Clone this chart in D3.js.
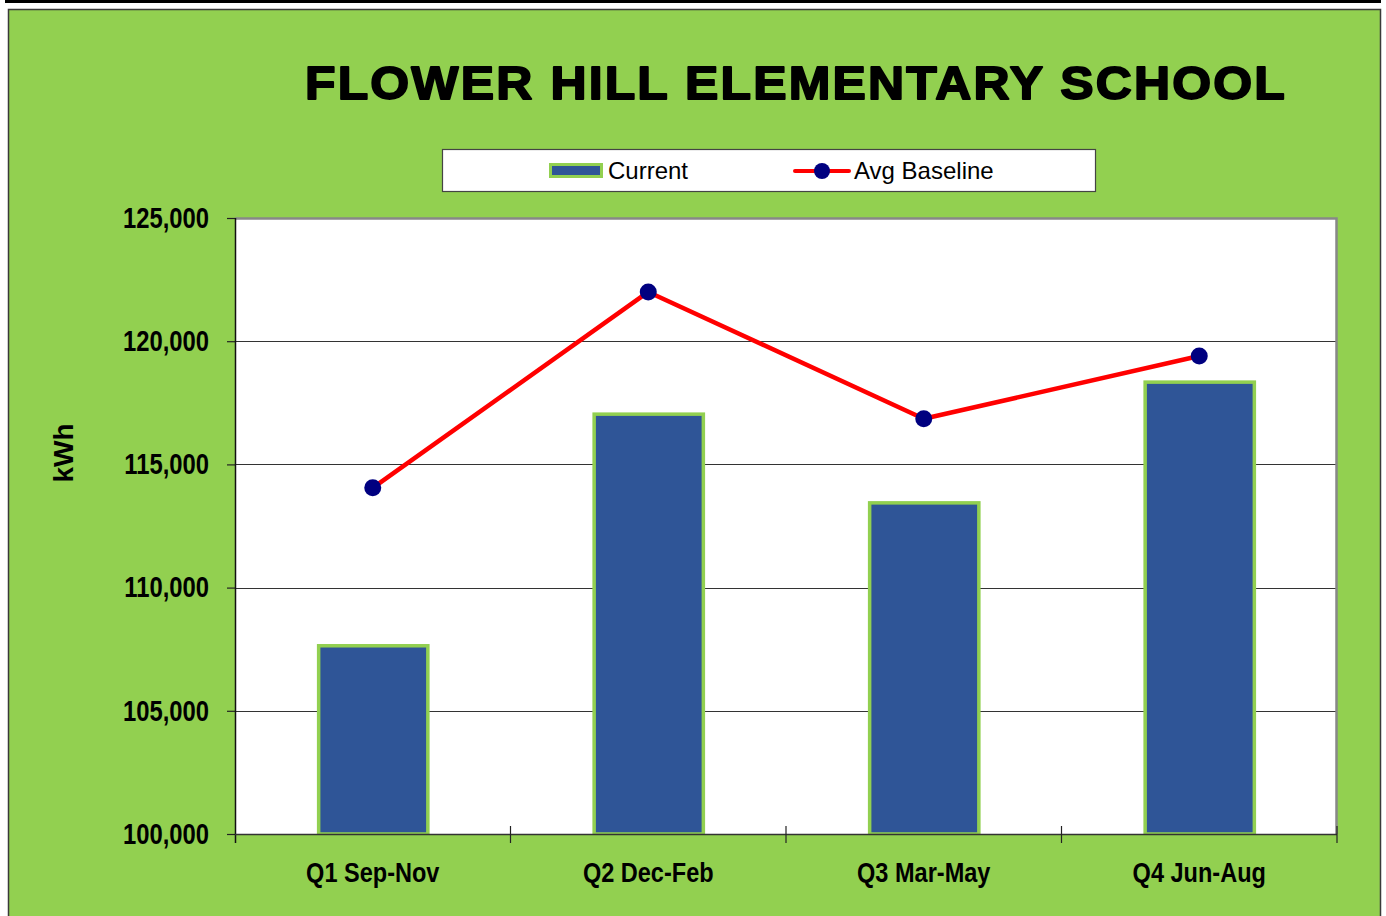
<!DOCTYPE html>
<html>
<head>
<meta charset="utf-8">
<script src="https://cdn.jsdelivr.net/npm/d3@7/dist/d3.min.js"></script>
<style>
  html, body { margin: 0; padding: 0; background: #ffffff; }
  svg { display: block; }
</style>
</head>
<body>
<svg id="chart" width="1386" height="916"></svg>
<script>
const categories = ["Q1 Sep-Nov", "Q2 Dec-Feb", "Q3 Mar-May", "Q4 Jun-Aug"];
const currentValues = [107700, 117100, 113500, 118400];
const baselineValues = [114050, 122000, 116850, 119400];
const yTicks = [100000, 105000, 110000, 115000, 120000, 125000];
const seriesNames = ["Current", "Avg Baseline"];
const titleText = "FLOWER HILL ELEMENTARY SCHOOL";
const yAxisLabel = "kWh";

const svg = d3.select("#chart");
const plot = { left: 235, right: 1337, top: 218, bottom: 834 };
const green = "#92D050", barBlue = "#2F5597", red = "#FF0000", navy = "#000080";
const sans = "'Liberation Sans', Arial, sans-serif";

function condense(sel, factor) {
  sel.each(function () {
    const w = this.getComputedTextLength();
    d3.select(this).attr("textLength", w * factor).attr("lengthAdjust", "spacingAndGlyphs");
  });
}

// top black strip
svg.append("rect").attr("x", 5).attr("y", 0).attr("width", 1376).attr("height", 3).attr("fill", "#000");
// green panel
svg.append("rect").attr("x", 8.5).attr("y", 9.5).attr("width", 1372).attr("height", 920)
  .attr("fill", green).attr("stroke", "#3a3a3a").attr("stroke-width", 1.5);

// title
svg.append("text").attr("x", 796).attr("y", 99).attr("text-anchor", "middle")
  .attr("font-family", sans).attr("font-weight", 900).attr("font-size", 47)
  .attr("textLength", 982).attr("lengthAdjust", "spacingAndGlyphs")
  .attr("fill", "#000").attr("stroke", "#000").attr("stroke-width", 1.8)
  .attr("stroke-linejoin", "round").attr("letter-spacing", 2).text(titleText);

// scales
const x = d3.scaleBand().domain(categories).range([plot.left, plot.right])
  .paddingInner(0.6).paddingOuter(0.3);
const xEdge = d3.scaleBand().domain(categories).range([plot.left, plot.right]).padding(0);
const y = d3.scaleLinear().domain([100000, 125000]).range([plot.bottom, plot.top]);

// plot background
svg.append("rect").attr("x", plot.left).attr("y", plot.top)
  .attr("width", plot.right - plot.left).attr("height", plot.bottom - plot.top).attr("fill", "#fff");

// gridlines
svg.append("g").selectAll("line").data(yTicks.slice(1, -1)).join("line")
  .attr("x1", plot.left).attr("x2", plot.right)
  .attr("y1", d => Math.round(y(d)) + 0.5).attr("y2", d => Math.round(y(d)) + 0.5)
  .attr("stroke", "#333").attr("stroke-width", 1);

// plot border (top & right gray)
svg.append("path")
  .attr("d", `M${plot.left},${plot.top + 0.5}H${plot.right - 0.5}V${plot.bottom}`)
  .attr("fill", "none").attr("stroke", "#888").attr("stroke-width", 2.5);

// bars
svg.append("g").selectAll("rect").data(currentValues).join("rect")
  .attr("x", (d, i) => x(categories[i]) + 1)
  .attr("y", d => y(d) + 1.5)
  .attr("width", x.bandwidth() - 1)
  .attr("height", d => plot.bottom - y(d) - 1.5)
  .attr("fill", barBlue).attr("stroke", green).attr("stroke-width", 3.5);

// y axis
const yAxis = d3.axisLeft(y).tickValues(yTicks).tickFormat(d3.format(",")).tickSize(8).tickPadding(18);
const gy = svg.append("g").attr("transform", `translate(${plot.left},0)`).call(yAxis);
gy.select(".domain").remove();
gy.selectAll(".tick line").attr("stroke", "#222").attr("stroke-width", 1.2);
gy.selectAll(".tick text").attr("font-family", sans).attr("font-weight", "bold")
  .attr("font-size", 29).attr("fill", "#000").call(condense, 0.82);
svg.append("line").attr("x1", plot.left + 0.5).attr("x2", plot.left + 0.5)
  .attr("y1", plot.top).attr("y2", plot.bottom + 9).attr("stroke", "#111").attr("stroke-width", 1.5);

// x axis
svg.append("line").attr("x1", plot.left).attr("x2", plot.right)
  .attr("y1", plot.bottom + 0.5).attr("y2", plot.bottom + 0.5).attr("stroke", "#333").attr("stroke-width", 1.5);
const edges = categories.map(c => xEdge(c) + xEdge.bandwidth());
svg.append("g").selectAll("line").data(edges).join("line")
  .attr("x1", d => d).attr("x2", d => d)
  .attr("y1", plot.bottom - 8).attr("y2", plot.bottom + 9)
  .attr("stroke", "#222").attr("stroke-width", 1.2);
svg.append("g").selectAll("text").data(categories).join("text")
  .attr("x", d => x(d) + x.bandwidth() / 2).attr("y", 882)
  .attr("text-anchor", "middle").attr("font-family", sans).attr("font-weight", "bold")
  .attr("font-size", 28).attr("fill", "#000").text(d => d).call(condense, 0.84);

// y label
svg.append("text").attr("transform", "translate(73,453) rotate(-90)")
  .attr("text-anchor", "middle").attr("font-family", sans).attr("font-weight", "bold")
  .attr("font-size", 28).attr("fill", "#000").text(yAxisLabel);

// line
const line = d3.line().x((d, i) => x(categories[i]) + x.bandwidth() / 2).y(d => y(d));
svg.append("path").datum(baselineValues).attr("d", line)
  .attr("fill", "none").attr("stroke", red).attr("stroke-width", 4.5).attr("stroke-linejoin", "round");
svg.append("g").selectAll("circle").data(baselineValues).join("circle")
  .attr("cx", (d, i) => x(categories[i]) + x.bandwidth() / 2).attr("cy", d => y(d))
  .attr("r", 8.5).attr("fill", navy);

// legend
const lg = svg.append("g");
lg.append("rect").attr("x", 442.5).attr("y", 149.5).attr("width", 653).attr("height", 42)
  .attr("fill", "#fff").attr("stroke", "#444").attr("stroke-width", 1.2);
lg.append("rect").attr("x", 550.5).attr("y", 164.5).attr("width", 51).attr("height", 12)
  .attr("fill", barBlue).attr("stroke", green).attr("stroke-width", 3);
lg.append("text").attr("x", 608).attr("y", 179).attr("font-family", sans).attr("font-size", 24)
  .attr("fill", "#000").text(seriesNames[0]);
lg.append("line").attr("x1", 795).attr("x2", 849).attr("y1", 171).attr("y2", 171)
  .attr("stroke", red).attr("stroke-width", 4).attr("stroke-linecap", "round");
lg.append("circle").attr("cx", 822).attr("cy", 171).attr("r", 8).attr("fill", navy);
lg.append("text").attr("x", 854).attr("y", 179).attr("font-family", sans).attr("font-size", 24)
  .attr("fill", "#000").text(seriesNames[1]);
</script>
</body>
</html>
